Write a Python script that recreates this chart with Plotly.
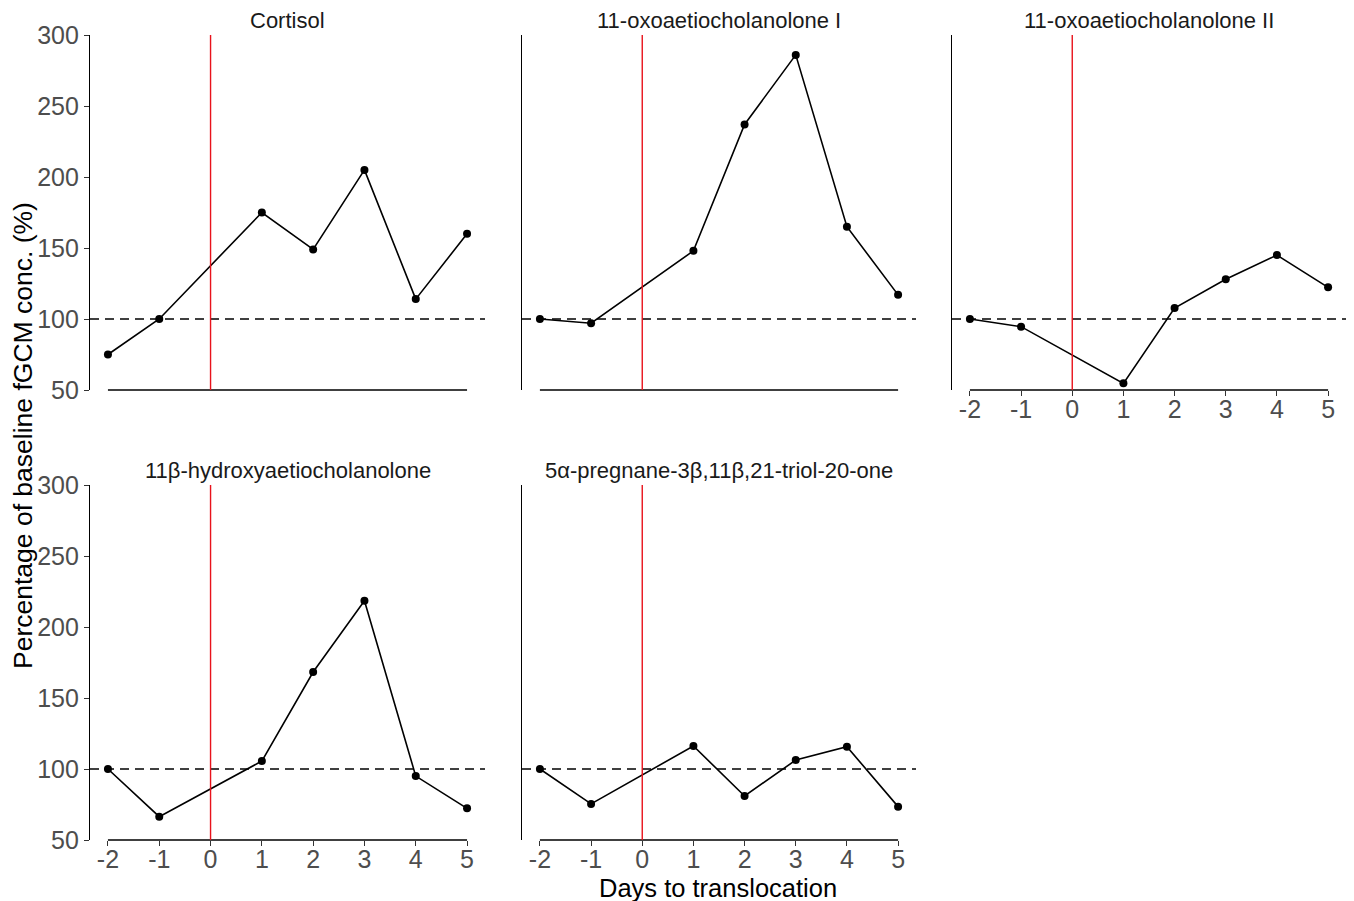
import plotly.graph_objects as go

days = [-2, -1, 1, 2, 3, 4, 5]
cortisol = [75, 100, 175, 149, 205, 114, 160]
oxo_1 = [100, 97, 148, 237, 286, 165, 117]
oxo_2 = [100, 94.6, 54.7, 107.7, 128, 145, 122.3]
hydroxy = [100, 66.4, 105.6, 168.3, 218.5, 95, 72.3]
pregnane = [100, 75.4, 116.2, 81, 106.3, 115.7, 73.5]

titles = ["Cortisol", "11-oxoaetiocholanolone I", "11-oxoaetiocholanolone II",
          "11β-hydroxyaetiocholanolone", "5α-pregnane-3β,11β,21-triol-20-one"]
series = [cortisol, oxo_1, oxo_2, hydroxy, pregnane]
x_ticks = [-2, -1, 0, 1, 2, 3, 4, 5]
y_ticks = [50, 100, 150, 200, 250, 300]
baseline = 100
event_day = 0

OFF = 8  # page body margin
W, H = 1354 - OFF, 901 - OFF
FONT = "Liberation Sans, Arial, sans-serif"


def px(p):
    return (p - OFF) / W


def py(p):
    return 1 - (p - OFF) / H


col_px = [(90, 485), (522, 916), (952, 1346)]
row_px = [(35, 390), (485, 840)]
# panel position (row, col), whether it shows x ticks, y ticks
panels = [(0, 0, False, True), (0, 1, False, False), (0, 2, True, False),
          (1, 0, True, True), (1, 1, True, False)]

fig = go.Figure()
layout = dict(width=W, height=H, margin=dict(l=0, r=0, t=0, b=0, autoexpand=False),
              plot_bgcolor="white", paper_bgcolor="white", showlegend=False,
              font=dict(family=FONT))
shapes = []
annotations = []

for i, (r, c, show_x, show_y) in enumerate(panels):
    n = "" if i == 0 else str(i + 1)
    xa, ya = "x" + n, "y" + n
    x0, x1 = col_px[c]
    t0, t1 = row_px[r]
    layout["xaxis" + n] = dict(
        domain=[px(x0), px(x1)], range=[-2.35, 5.35], anchor=ya, automargin=False,
        tickvals=x_ticks, ticktext=[str(v) for v in x_ticks],
        showticklabels=show_x, ticks="outside" if show_x else "",
        ticklen=5, tickwidth=1.1, tickcolor="#333333", ticklabelstandoff=-8,
        tickfont=dict(size=25, color="#4D4D4D", family=FONT),
        showgrid=False, zeroline=False, showline=False)
    layout["yaxis" + n] = dict(
        domain=[py(t1), py(t0)], range=[50, 300], anchor=xa, automargin=False,
        tickvals=y_ticks, ticktext=[str(v) for v in y_ticks],
        showticklabels=show_y, ticks="outside" if show_y else "",
        ticklen=5, tickwidth=1.1, tickcolor="#333333",
        tickfont=dict(size=25, color="#4D4D4D", family=FONT),
        showgrid=False, zeroline=False, showline=True,
        linecolor="black", linewidth=1.2)

    fig.add_trace(go.Scatter(
        x=days, y=series[i], xaxis=xa, yaxis=ya, mode="lines+markers",
        line=dict(color="black", width=1.6),
        marker=dict(color="black", size=8), cliponaxis=False))

    # x axis line spanning the data range only (paper y so it is not clipped)
    shapes.append(dict(type="line", xref=xa, yref="paper", x0=min(x_ticks), x1=max(x_ticks),
                       y0=py(t1), y1=py(t1), line=dict(color="black", width=1.3)))
    # baseline dashed line
    shapes.append(dict(type="line", xref=xa + " domain", yref=ya, x0=0, x1=1,
                       y0=baseline, y1=baseline,
                       line=dict(color="black", width=1.3, dash="9px,6px")))
    # translocation day line
    shapes.append(dict(type="line", xref=xa, yref=ya + " domain", x0=event_day, x1=event_day,
                       y0=0, y1=1, line=dict(color="#E8121B", width=1.4)))

    ty = 20 if r == 0 else 471
    annotations.append(dict(text=titles[i], xref="paper", yref="paper",
                            x=px((x0 + x1) / 2), y=py(ty),
                            xanchor="center", yanchor="middle", showarrow=False,
                            font=dict(size=22, color="#1A1A1A", family=FONT)))

annotations.append(dict(text="Days to translocation", xref="paper", yref="paper",
                        x=px((90 + 1346) / 2), y=py(888), xanchor="center",
                        yanchor="middle", showarrow=False,
                        font=dict(size=25.5, color="black", family=FONT)))
annotations.append(dict(text="Percentage of baseline fGCM conc. (%)", xref="paper",
                        yref="paper", x=px(23), y=py(436), xanchor="center",
                        yanchor="middle", textangle=-90, showarrow=False,
                        font=dict(size=26.5, color="black", family=FONT)))

layout["shapes"] = shapes
layout["annotations"] = annotations
fig.update_layout(**layout)
fig.write_html("out.html")
